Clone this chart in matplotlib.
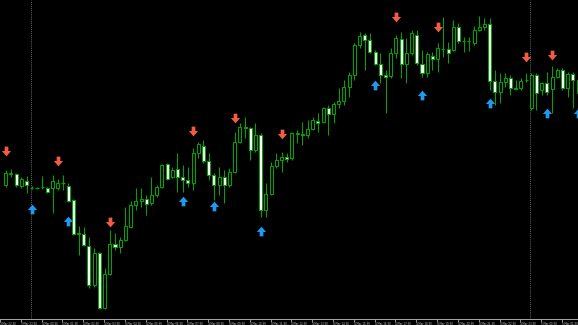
import numpy as np
import matplotlib
matplotlib.use("Agg")
import matplotlib.pyplot as plt
from matplotlib.path import Path

opens = [185, 174, 174, 186, 181, 187.5, 187.5, 187.5, 188, 188, 188, 183, 186, 200, 234, 234,
         246, 285, 253, 308, 274, 244, 247, 240, 227, 205, 201, 199, 203, 195, 187, 164,
         177, 169, 177, 180, 183, 153, 146, 160.5, 175, 185, 177, 185, 172, 142, 127, 128,
         150, 135, 210, 194, 166, 160, 157, 158, 134, 134, 135, 129, 121, 122, 108, 114,
         104, 101, 87, 75, 45, 35, 40, 52, 64, 75, 76, 53, 39, 64, 53, 35,
         64, 73, 56, 59, 49.5, 49, 50, 27, 41, 41.5, 43, 29.5, 27, 24, 80.5, 92,
         81.5, 78, 87.7, 88, 80, 108, 75, 90, 83, 89, 77, 70, 88, 74, 93]
highs = [170, 169, 173, 177, 176, 186, 186.5, 176, 186.5, 175, 179, 175, 183, 199, 226, 227,
         237, 248, 252, 268, 230, 233, 237, 207, 201, 188, 188, 195, 177, 185, 164, 163,
         167, 153, 165, 167, 148, 142, 140, 153, 173, 167, 170, 168, 132, 123, 117, 127,
         123, 133, 183, 162, 153, 152, 153, 132, 130, 122, 120, 117, 113, 107, 105, 102,
         88, 80, 72, 43, 32, 33, 33, 50, 53, 70, 48, 35, 32, 38, 30, 30,
         50, 52, 52, 43, 17, 42, 20, 23, 37, 37, 26, 16, 18, 18, 70, 73,
         72.5, 75, 80, 78, 73, 73, 73, 82, 72, 66, 68, 68, 72, 72, 78]
lows = [187, 177, 187, 188, 193, 189, 188.5, 189, 193, 213, 190, 190, 202, 235, 255, 246,
        288, 287, 309, 308.5, 275, 250, 253, 240.5, 227.5, 210, 207, 215, 205, 197, 187.5, 180,
        178, 192, 192, 187, 190, 158, 163, 180, 200, 195, 203, 187, 172.5, 143, 138, 160,
        152, 217, 217, 195, 168, 172, 162, 160, 143, 145, 138, 130, 132, 123, 135, 123,
        108, 105, 97, 80, 48, 70, 53, 65, 83, 113, 78, 58, 78, 83, 55, 65,
        77, 77, 70, 72, 57, 63, 51, 43, 52, 51, 45, 31, 30, 90, 105, 103,
        87, 95, 90, 90, 82, 110, 110, 95, 95, 113, 78, 90, 97, 108, 95]
closes = [173, 173, 185, 179, 185, 187.5, 187.5, 187, 192, 181, 183, 182.5, 201, 234, 233, 245,
          285, 253, 308, 274, 244, 247, 240, 226, 205, 201, 199, 204, 195, 187, 165, 179,
          170, 177, 180, 183, 153, 144, 160.5, 175, 185, 177, 185, 172, 142, 127, 128, 150,
          135, 210, 194, 166, 160, 157, 158.5, 133, 133, 135, 129, 120, 123, 108, 114, 104,
          101, 87, 75, 45, 36, 40, 52, 64, 75, 76.5, 53, 38, 64, 53, 33, 63,
          73, 54, 59, 48, 49, 53, 27, 41, 41, 41, 30, 27, 24, 80.5, 91.5, 82,
          78, 88, 89, 81, 80, 75, 92.5, 83, 92, 77, 70, 88, 74, 80, 80]

# fractal arrows: candle index and level
up_idx = [5, 12, 34, 40, 49, 71, 80, 93, 104, 110]
up_lvl = [209, 221, 200.7, 206, 230.7, 85, 95, 103, 112.7, 112.7]
down_idx = [0, 10, 20, 36, 44, 53, 75, 83, 100, 105]
down_lvl = [151, 161, 222, 131, 118, 134, 16.7, 26.7, 56.7, 55]

# day separators and time axis labels
separators = [5, 101]
label_idx = [-1] + list(range(3, 108, 4))
label_txt = ["3 Mar 22:30", "3 Mar 23:30",
             "4 Mar 00:30", "4 Mar 01:30", "4 Mar 02:30", "4 Mar 03:30", "4 Mar 04:30", "4 Mar 05:30",
             "4 Mar 06:30", "4 Mar 07:30", "4 Mar 08:30", "4 Mar 09:30", "4 Mar 10:30", "4 Mar 11:30",
             "4 Mar 12:30", "4 Mar 13:30", "4 Mar 14:30", "4 Mar 15:30", "4 Mar 16:30", "4 Mar 17:30",
             "4 Mar 18:30", "4 Mar 19:30", "4 Mar 20:30", "4 Mar 21:30", "4 Mar 22:30", "4 Mar 23:30",
             "5 Mar 00:30", "5 Mar 01:30"]

green = "#00a400"
o = np.array(opens)
h = np.array(highs)
l = np.array(lows)
c = np.array(closes)
x = np.arange(len(o))

fig = plt.figure(figsize=(5.78, 3.25), dpi=100, facecolor="black")
ax = fig.add_axes([0, 6 / 325, 1, 319 / 325], facecolor="black")

# wicks
ax.vlines(x, h, l, color=green, lw=0.75, zorder=1)

# bodies: bull = black fill, bear = white fill
bull = c <= o
size = np.abs(o - c)
is_body = size >= 0.8
ax.bar(x[is_body], size[is_body], bottom=np.minimum(o, c)[is_body], width=0.58,
       color=np.where(bull, "black", "white")[is_body], edgecolor=green, linewidth=0.75, zorder=2)
ax.hlines(c[~is_body], x[~is_body] - 0.3, x[~is_body] + 0.3, color=green, lw=0.9, zorder=2)

# arrows
down_arrow = Path([(-0.38, 1), (0.38, 1), (0.38, 0.1), (0.95, 0.1), (0, -1),
                   (-0.95, 0.1), (-0.38, 0.1), (-0.38, 1)], closed=True)
up_arrow = Path([(px, -py) for px, py in down_arrow.vertices], closed=True)
ax.plot(down_idx, down_lvl, ls="none", marker=down_arrow, ms=7, color="#f25c45", mew=0, zorder=3)
ax.plot(up_idx, up_lvl, ls="none", marker=up_arrow, ms=7, color="#1d9bf0", mew=0, zorder=3)

for s in separators:
    ax.axvline(s - 0.15, color="#8c8c8c", lw=0.6, ls=(0, (1, 1.5)), zorder=0)

ax.set_xlim(-0.324, 109.98)
ax.set_ylim(319, 0)
ax.set_yticks([])
ax.set_xticks([i - 0.1 for i in label_idx])
ax.set_xticklabels(label_txt)
ax.tick_params(axis="x", colors="#b0b0b0", labelcolor="#c8c8c8", length=2, width=0.6,
               pad=0.4, labelsize=1.9, direction="out")
for t in ax.get_xticklabels():
    t.set_ha("left")
for side in ["top", "left", "right"]:
    ax.spines[side].set_visible(False)
ax.spines["bottom"].set_color("#a8a8a8")
ax.spines["bottom"].set_linewidth(0.7)

fig.savefig("out.png", dpi=100, facecolor="black")
